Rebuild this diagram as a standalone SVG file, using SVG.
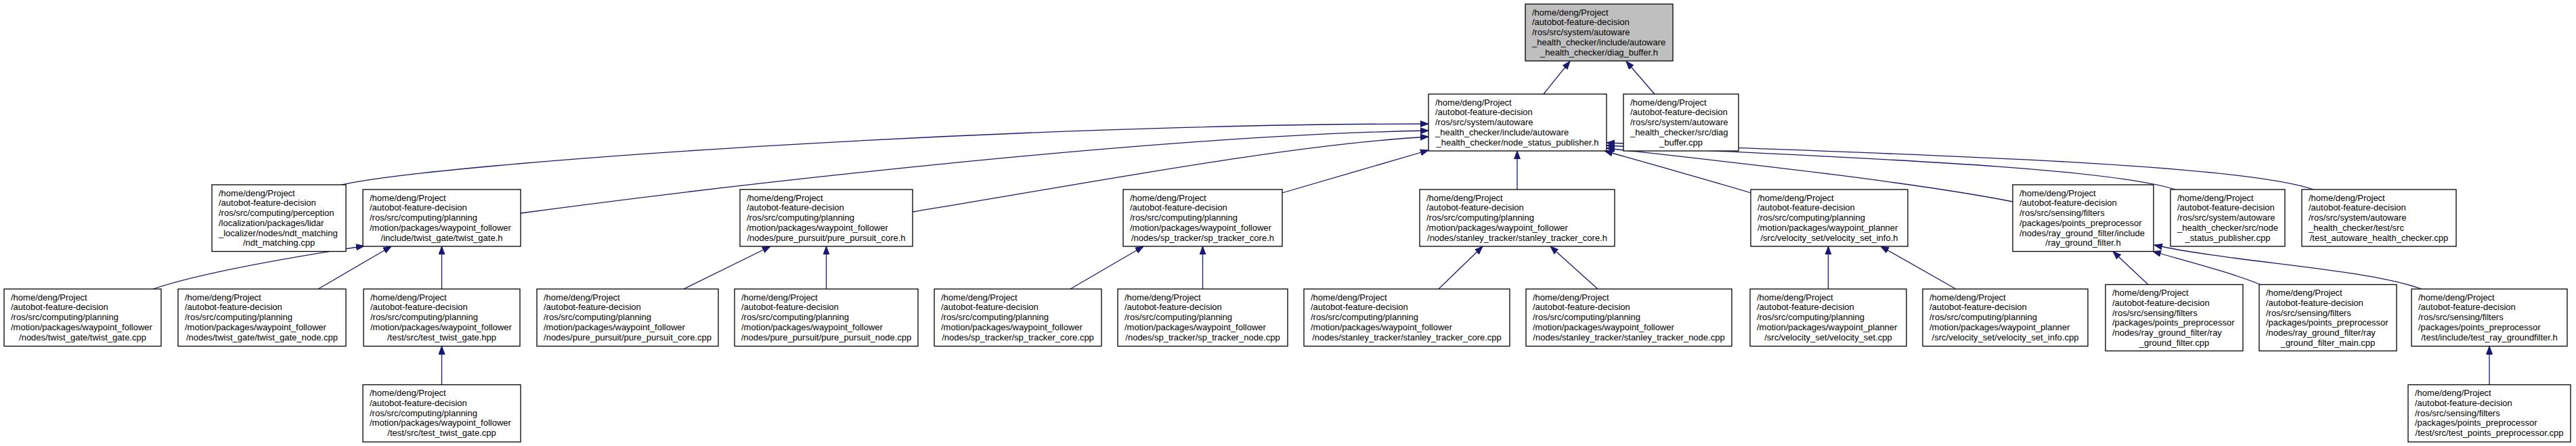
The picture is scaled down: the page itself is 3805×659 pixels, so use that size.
<svg xmlns="http://www.w3.org/2000/svg" width="3805" height="659" viewBox="0 0 3805 659">
<style>
.n rect{fill:#fff;stroke:#000;stroke-width:1.3}
.root rect{fill:#bfbfbf}
text{font-family:"Liberation Sans",Arial,Helvetica,sans-serif;font-size:13px;fill:#000}
.c{text-anchor:middle}
.e path{fill:none;stroke:#191970;stroke-width:1.3;marker-end:url(#a)}
</style>
<defs>
<marker id="a" markerUnits="userSpaceOnUse" markerWidth="13" markerHeight="10" refX="12" refY="5" orient="auto"><path d="M0,0.5 L12,5 L0,9.5 z" fill="#191970" stroke="#191970" stroke-width="1"/></marker>
</defs>
<rect width="3805" height="659" fill="#fff"/>
<g class="e" id="edges">
<path d="M2280,139 L2319,90.5"/>
<path d="M2444,139 L2402,90.5"/>
<path d="M505,273 C650,240 1500,183 2110,183"/>
<path d="M769,315 C1050,277 1700,200 2110,193"/>
<path d="M1348,313 C1600,272 1900,214 2110,202"/>
<path d="M1894,285 L2110,222"/>
<path d="M2241,280 L2241,223"/>
<path d="M2586,285 C2530,268 2430,240 2370,223"/>
<path d="M2973,298 C2820,268 2560,240 2373,219"/>
<path d="M3213,280 C3100,245 2700,232 2373,215"/>
<path d="M3417,280 C3300,240 2800,228 2373,211"/>
<path d="M226,427 C300,402 430,380 538,363.5"/>
<path d="M470,427 L578,364"/>
<path d="M652.5,427 L652.5,364"/>
<path d="M652.5,568.5 L652.5,511.5"/>
<path d="M1010,427 L1138,364"/>
<path d="M1220.5,427 L1220.5,364"/>
<path d="M1581,427 L1689,364"/>
<path d="M1776.5,427 L1776.5,364"/>
<path d="M2125,427 L2190,364"/>
<path d="M2360,427 L2290,364"/>
<path d="M2700.5,427 L2700.5,364"/>
<path d="M2889,427 L2778,364"/>
<path d="M3173,420.5 L3121,371.5"/>
<path d="M3340,421 C3300,404 3230,386 3180,371.5"/>
<path d="M3577,427 C3490,396 3300,388 3182,362"/>
<path d="M3677,568.5 L3677,511.5"/>
</g>

<g class="n root" id="diag_buffer_h">
<rect x="2253" y="6" width="218" height="84"/>
<text y="22.5"><tspan x="2263">/home/deng/Project</tspan><tspan x="2263" dy="14.75">/autobot-feature-decision</tspan><tspan x="2263" dy="14.75">/ros/src/system/autoware</tspan><tspan x="2263" dy="14.75">_health_checker/include/autoware</tspan></text>
<text class="c" x="2362" y="81.5">_health_checker/diag_buffer.h</text>
</g>

<g class="n" id="node_status_publisher_h">
<rect x="2110" y="139" width="263" height="84"/>
<text y="155.5"><tspan x="2120">/home/deng/Project</tspan><tspan x="2120" dy="14.75">/autobot-feature-decision</tspan><tspan x="2120" dy="14.75">/ros/src/system/autoware</tspan><tspan x="2120" dy="14.75">_health_checker/include/autoware</tspan></text>
<text class="c" x="2241.5" y="214.5">_health_checker/node_status_publisher.h</text>
</g>

<g class="n" id="diag_buffer_cpp">
<rect x="2398" y="139" width="170" height="84"/>
<text y="155.5"><tspan x="2408">/home/deng/Project</tspan><tspan x="2408" dy="14.75">/autobot-feature-decision</tspan><tspan x="2408" dy="14.75">/ros/src/system/autoware</tspan><tspan x="2408" dy="14.75">_health_checker/src/diag</tspan></text>
<text class="c" x="2483" y="214.5">_buffer.cpp</text>
</g>

<g class="n" id="ndt_matching_cpp">
<rect x="313" y="273" width="198" height="98.5"/>
<text y="289.5"><tspan x="323">/home/deng/Project</tspan><tspan x="323" dy="14.75">/autobot-feature-decision</tspan><tspan x="323" dy="14.75">/ros/src/computing/perception</tspan><tspan x="323" dy="14.75">/localization/packages/lidar</tspan><tspan x="323" dy="14.75">_localizer/nodes/ndt_matching</tspan></text>
<text class="c" x="412" y="363.25">/ndt_matching.cpp</text>
</g>

<g class="n" id="twist_gate_h">
<rect x="536" y="280" width="233" height="84"/>
<text y="296.5"><tspan x="546">/home/deng/Project</tspan><tspan x="546" dy="14.75">/autobot-feature-decision</tspan><tspan x="546" dy="14.75">/ros/src/computing/planning</tspan><tspan x="546" dy="14.75">/motion/packages/waypoint_follower</tspan></text>
<text class="c" x="652.5" y="355.5">/include/twist_gate/twist_gate.h</text>
</g>

<g class="n" id="pure_pursuit_core_h">
<rect x="1093" y="280" width="255" height="84"/>
<text y="296.5"><tspan x="1103">/home/deng/Project</tspan><tspan x="1103" dy="14.75">/autobot-feature-decision</tspan><tspan x="1103" dy="14.75">/ros/src/computing/planning</tspan><tspan x="1103" dy="14.75">/motion/packages/waypoint_follower</tspan></text>
<text class="c" x="1220.5" y="355.5">/nodes/pure_pursuit/pure_pursuit_core.h</text>
</g>

<g class="n" id="sp_tracker_core_h">
<rect x="1659" y="280" width="235" height="84"/>
<text y="296.5"><tspan x="1669">/home/deng/Project</tspan><tspan x="1669" dy="14.75">/autobot-feature-decision</tspan><tspan x="1669" dy="14.75">/ros/src/computing/planning</tspan><tspan x="1669" dy="14.75">/motion/packages/waypoint_follower</tspan></text>
<text class="c" x="1776.5" y="355.5">/nodes/sp_tracker/sp_tracker_core.h</text>
</g>

<g class="n" id="stanley_tracker_core_h">
<rect x="2097" y="280" width="288" height="84"/>
<text y="296.5"><tspan x="2107">/home/deng/Project</tspan><tspan x="2107" dy="14.75">/autobot-feature-decision</tspan><tspan x="2107" dy="14.75">/ros/src/computing/planning</tspan><tspan x="2107" dy="14.75">/motion/packages/waypoint_follower</tspan></text>
<text class="c" x="2241" y="355.5">/nodes/stanley_tracker/stanley_tracker_core.h</text>
</g>

<g class="n" id="velocity_set_info_h">
<rect x="2586" y="280" width="232" height="84"/>
<text y="296.5"><tspan x="2596">/home/deng/Project</tspan><tspan x="2596" dy="14.75">/autobot-feature-decision</tspan><tspan x="2596" dy="14.75">/ros/src/computing/planning</tspan><tspan x="2596" dy="14.75">/motion/packages/waypoint_planner</tspan></text>
<text class="c" x="2702" y="355.5">/src/velocity_set/velocity_set_info.h</text>
</g>

<g class="n" id="ray_ground_filter_h">
<rect x="2973" y="273" width="208" height="98.5"/>
<text y="289.5"><tspan x="2983">/home/deng/Project</tspan><tspan x="2983" dy="14.75">/autobot-feature-decision</tspan><tspan x="2983" dy="14.75">/ros/src/sensing/filters</tspan><tspan x="2983" dy="14.75">/packages/points_preprocessor</tspan><tspan x="2983" dy="14.75">/nodes/ray_ground_filter/include</tspan></text>
<text class="c" x="3077" y="363.25">/ray_ground_filter.h</text>
</g>

<g class="n" id="node_status_publisher_cpp">
<rect x="3206" y="280" width="169" height="84"/>
<text y="296.5"><tspan x="3216">/home/deng/Project</tspan><tspan x="3216" dy="14.75">/autobot-feature-decision</tspan><tspan x="3216" dy="14.75">/ros/src/system/autoware</tspan><tspan x="3216" dy="14.75">_health_checker/src/node</tspan></text>
<text class="c" x="3290.5" y="355.5">_status_publisher.cpp</text>
</g>

<g class="n" id="test_autoware_health_checker_cpp">
<rect x="3400" y="280" width="228" height="84"/>
<text y="296.5"><tspan x="3410">/home/deng/Project</tspan><tspan x="3410" dy="14.75">/autobot-feature-decision</tspan><tspan x="3410" dy="14.75">/ros/src/system/autoware</tspan><tspan x="3410" dy="14.75">_health_checker/test/src</tspan></text>
<text class="c" x="3514" y="355.5">/test_autoware_health_checker.cpp</text>
</g>

<g class="n" id="twist_gate_cpp">
<rect x="6" y="427" width="232" height="84.5"/>
<text y="443.5"><tspan x="16">/home/deng/Project</tspan><tspan x="16" dy="14.75">/autobot-feature-decision</tspan><tspan x="16" dy="14.75">/ros/src/computing/planning</tspan><tspan x="16" dy="14.75">/motion/packages/waypoint_follower</tspan></text>
<text class="c" x="122" y="502.5">/nodes/twist_gate/twist_gate.cpp</text>
</g>

<g class="n" id="twist_gate_node_cpp">
<rect x="263" y="427" width="248" height="84.5"/>
<text y="443.5"><tspan x="273">/home/deng/Project</tspan><tspan x="273" dy="14.75">/autobot-feature-decision</tspan><tspan x="273" dy="14.75">/ros/src/computing/planning</tspan><tspan x="273" dy="14.75">/motion/packages/waypoint_follower</tspan></text>
<text class="c" x="387" y="502.5">/nodes/twist_gate/twist_gate_node.cpp</text>
</g>

<g class="n" id="test_twist_gate_hpp">
<rect x="537" y="427" width="231" height="84.5"/>
<text y="443.5"><tspan x="547">/home/deng/Project</tspan><tspan x="547" dy="14.75">/autobot-feature-decision</tspan><tspan x="547" dy="14.75">/ros/src/computing/planning</tspan><tspan x="547" dy="14.75">/motion/packages/waypoint_follower</tspan></text>
<text class="c" x="652.5" y="502.5">/test/src/test_twist_gate.hpp</text>
</g>

<g class="n" id="pure_pursuit_core_cpp">
<rect x="793" y="427" width="268" height="84.5"/>
<text y="443.5"><tspan x="803">/home/deng/Project</tspan><tspan x="803" dy="14.75">/autobot-feature-decision</tspan><tspan x="803" dy="14.75">/ros/src/computing/planning</tspan><tspan x="803" dy="14.75">/motion/packages/waypoint_follower</tspan></text>
<text class="c" x="927" y="502.5">/nodes/pure_pursuit/pure_pursuit_core.cpp</text>
</g>

<g class="n" id="pure_pursuit_node_cpp">
<rect x="1085" y="427" width="271" height="84.5"/>
<text y="443.5"><tspan x="1095">/home/deng/Project</tspan><tspan x="1095" dy="14.75">/autobot-feature-decision</tspan><tspan x="1095" dy="14.75">/ros/src/computing/planning</tspan><tspan x="1095" dy="14.75">/motion/packages/waypoint_follower</tspan></text>
<text class="c" x="1220.5" y="502.5">/nodes/pure_pursuit/pure_pursuit_node.cpp</text>
</g>

<g class="n" id="sp_tracker_core_cpp">
<rect x="1380" y="427" width="247" height="84.5"/>
<text y="443.5"><tspan x="1390">/home/deng/Project</tspan><tspan x="1390" dy="14.75">/autobot-feature-decision</tspan><tspan x="1390" dy="14.75">/ros/src/computing/planning</tspan><tspan x="1390" dy="14.75">/motion/packages/waypoint_follower</tspan></text>
<text class="c" x="1503.5" y="502.5">/nodes/sp_tracker/sp_tracker_core.cpp</text>
</g>

<g class="n" id="sp_tracker_node_cpp">
<rect x="1651" y="427" width="251" height="84.5"/>
<text y="443.5"><tspan x="1661">/home/deng/Project</tspan><tspan x="1661" dy="14.75">/autobot-feature-decision</tspan><tspan x="1661" dy="14.75">/ros/src/computing/planning</tspan><tspan x="1661" dy="14.75">/motion/packages/waypoint_follower</tspan></text>
<text class="c" x="1776.5" y="502.5">/nodes/sp_tracker/sp_tracker_node.cpp</text>
</g>

<g class="n" id="stanley_tracker_core_cpp">
<rect x="1926" y="427" width="304" height="84.5"/>
<text y="443.5"><tspan x="1936">/home/deng/Project</tspan><tspan x="1936" dy="14.75">/autobot-feature-decision</tspan><tspan x="1936" dy="14.75">/ros/src/computing/planning</tspan><tspan x="1936" dy="14.75">/motion/packages/waypoint_follower</tspan></text>
<text class="c" x="2078" y="502.5">/nodes/stanley_tracker/stanley_tracker_core.cpp</text>
</g>

<g class="n" id="stanley_tracker_node_cpp">
<rect x="2254" y="427" width="304" height="84.5"/>
<text y="443.5"><tspan x="2264">/home/deng/Project</tspan><tspan x="2264" dy="14.75">/autobot-feature-decision</tspan><tspan x="2264" dy="14.75">/ros/src/computing/planning</tspan><tspan x="2264" dy="14.75">/motion/packages/waypoint_follower</tspan></text>
<text class="c" x="2406" y="502.5">/nodes/stanley_tracker/stanley_tracker_node.cpp</text>
</g>

<g class="n" id="velocity_set_cpp">
<rect x="2585" y="427" width="231" height="84.5"/>
<text y="443.5"><tspan x="2595">/home/deng/Project</tspan><tspan x="2595" dy="14.75">/autobot-feature-decision</tspan><tspan x="2595" dy="14.75">/ros/src/computing/planning</tspan><tspan x="2595" dy="14.75">/motion/packages/waypoint_planner</tspan></text>
<text class="c" x="2700.5" y="502.5">/src/velocity_set/velocity_set.cpp</text>
</g>

<g class="n" id="velocity_set_info_cpp">
<rect x="2840" y="427" width="244" height="84.5"/>
<text y="443.5"><tspan x="2850">/home/deng/Project</tspan><tspan x="2850" dy="14.75">/autobot-feature-decision</tspan><tspan x="2850" dy="14.75">/ros/src/computing/planning</tspan><tspan x="2850" dy="14.75">/motion/packages/waypoint_planner</tspan></text>
<text class="c" x="2962" y="502.5">/src/velocity_set/velocity_set_info.cpp</text>
</g>

<g class="n" id="ray_ground_filter_cpp">
<rect x="3110" y="420.5" width="203" height="98"/>
<text y="437"><tspan x="3120">/home/deng/Project</tspan><tspan x="3120" dy="14.75">/autobot-feature-decision</tspan><tspan x="3120" dy="14.75">/ros/src/sensing/filters</tspan><tspan x="3120" dy="14.75">/packages/points_preprocessor</tspan><tspan x="3120" dy="14.75">/nodes/ray_ground_filter/ray</tspan></text>
<text class="c" x="3211.5" y="510.75">_ground_filter.cpp</text>
</g>

<g class="n" id="ray_ground_filter_main_cpp">
<rect x="3337" y="420.5" width="203" height="98"/>
<text y="437"><tspan x="3347">/home/deng/Project</tspan><tspan x="3347" dy="14.75">/autobot-feature-decision</tspan><tspan x="3347" dy="14.75">/ros/src/sensing/filters</tspan><tspan x="3347" dy="14.75">/packages/points_preprocessor</tspan><tspan x="3347" dy="14.75">/nodes/ray_ground_filter/ray</tspan></text>
<text class="c" x="3438.5" y="510.75">_ground_filter_main.cpp</text>
</g>

<g class="n" id="test_ray_groundfilter_h">
<rect x="3562" y="427" width="230" height="84.5"/>
<text y="443.5"><tspan x="3572">/home/deng/Project</tspan><tspan x="3572" dy="14.75">/autobot-feature-decision</tspan><tspan x="3572" dy="14.75">/ros/src/sensing/filters</tspan><tspan x="3572" dy="14.75">/packages/points_preprocessor</tspan></text>
<text class="c" x="3677" y="502.5">/test/include/test_ray_groundfilter.h</text>
</g>

<g class="n" id="test_twist_gate_cpp">
<rect x="536" y="568.5" width="233" height="84.5"/>
<text y="585"><tspan x="546">/home/deng/Project</tspan><tspan x="546" dy="14.75">/autobot-feature-decision</tspan><tspan x="546" dy="14.75">/ros/src/computing/planning</tspan><tspan x="546" dy="14.75">/motion/packages/waypoint_follower</tspan></text>
<text class="c" x="652.5" y="644">/test/src/test_twist_gate.cpp</text>
</g>

<g class="n" id="test_points_preprocessor_cpp">
<rect x="3557" y="568.5" width="240" height="84.5"/>
<text y="585"><tspan x="3567">/home/deng/Project</tspan><tspan x="3567" dy="14.75">/autobot-feature-decision</tspan><tspan x="3567" dy="14.75">/ros/src/sensing/filters</tspan><tspan x="3567" dy="14.75">/packages/points_preprocessor</tspan></text>
<text class="c" x="3677" y="644">/test/src/test_points_preprocessor.cpp</text>
</g>
</svg>
